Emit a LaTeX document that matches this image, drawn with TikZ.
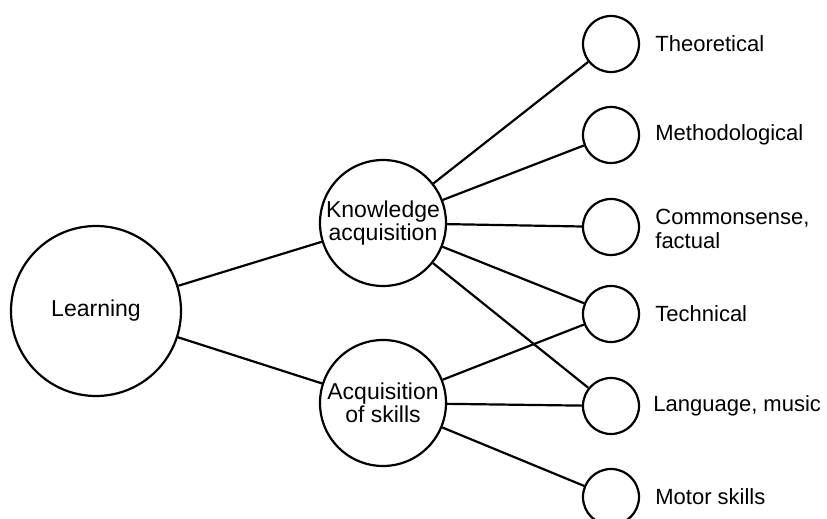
\documentclass[tikz,border=0pt]{standalone}
\usepackage{fontspec}
\setmainfont{Liberation Sans}
\begin{document}
\begin{tikzpicture}[x=0.5pt, y=-0.5pt,
  every node/.style={font=\fontsize{11.5}{10.5}\selectfont},
  bub/.style={circle, draw, line width=1.1pt, inner sep=0pt, align=center},
  big/.style={bub, minimum size=85pt},
  mid/.style={bub, minimum size=63pt},
  leaf/.style={bub, minimum size=28pt},
  tag/.style={anchor=west, align=left, inner sep=0pt, font=\fontsize{11}{12}\selectfont},
  link/.style={line width=1.1pt}]
\useasboundingbox (0,0) rectangle (827,519);

% root and the two branches
\node[big] (learn) at (96,311) {Learning};
\node[mid] (know) at (383,223) {Knowledge\\acquisition};
\node[mid] (skill) at (383,403) {Acquisition\\of skills};

% leaves
\node[leaf] (theo) at (611,44) {};
\node[leaf] (meth) at (611,135) {};
\node[leaf] (comm) at (611,227) {};
\node[leaf] (tech) at (611,314) {};
\node[leaf] (lang) at (611,406) {};
\node[leaf] (motor) at (611,497) {};

% leaf labels
\node[tag] (ltheo) at (655,44) {Theoretical};
\node[tag] (lmeth) at (655,135) {Methodological};
\node[tag] (lcomm) at (655,229) {Commonsense,\\factual};
\node[tag] (ltech) at (655,314) {Technical};
\node[tag] (llang) at (653,406) {Language, music};
\node[tag] (lmotor) at (655,497) {Motor skills};

% connectors
\draw[link] (learn) -- (know);
\draw[link] (learn) -- (skill);
\draw[link] (know) -- (theo);
\draw[link] (know) -- (meth);
\draw[link] (know) -- (comm);
\draw[link] (know) -- (tech);
\draw[link] (know) -- (lang);
\draw[link] (skill) -- (tech);
\draw[link] (skill) -- (lang);
\draw[link] (skill) -- (motor);
\end{tikzpicture}
\end{document}
